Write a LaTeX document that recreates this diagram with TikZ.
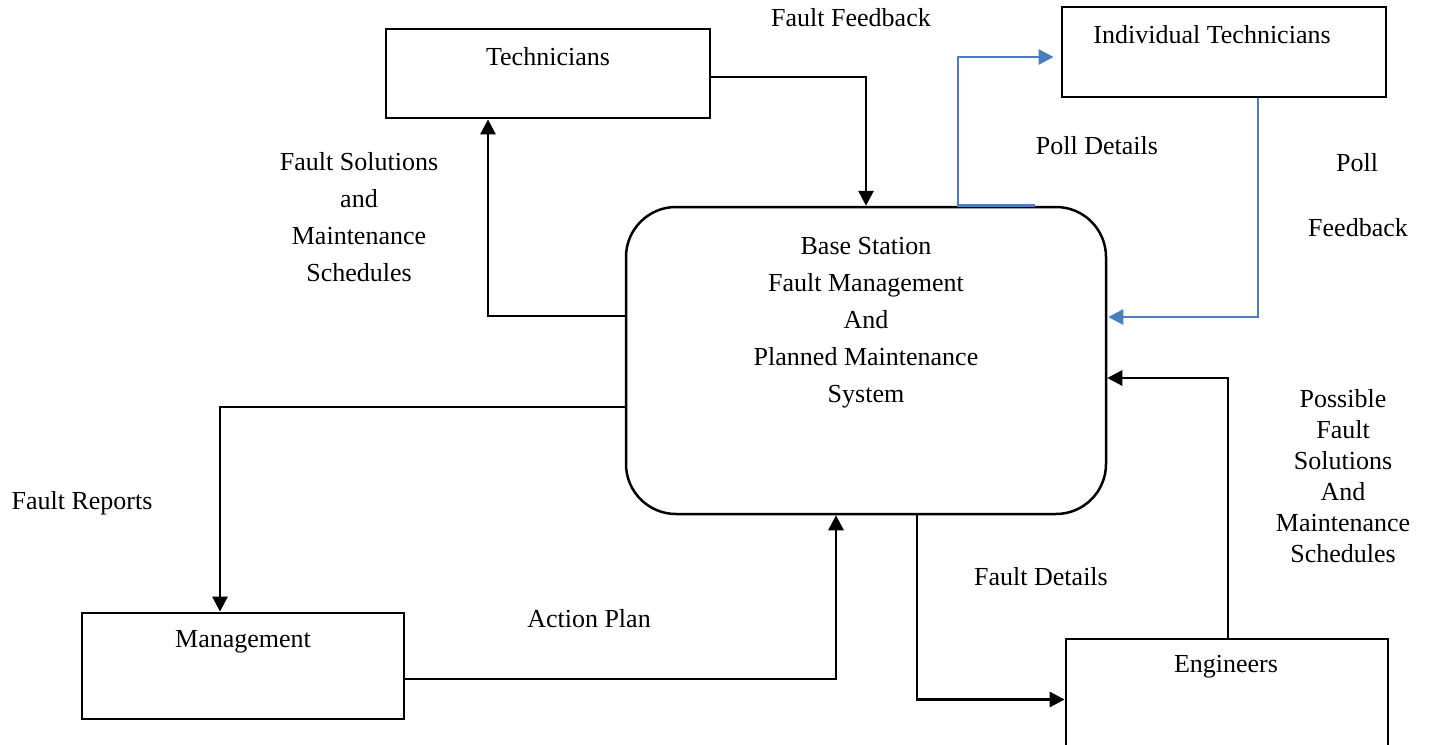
\documentclass[tikz,border=0pt]{standalone}
\usepackage{fontspec}
\setmainfont{Liberation Serif}
\usetikzlibrary{arrows.meta}
\definecolor{flowblue}{RGB}{74,126,190}
\tikzset{
  box/.style={draw=black, line width=2.8pt, rectangle, inner sep=0pt},
  mainbox/.style={draw=black, line width=2.5pt, rectangle, rounded corners=50pt, inner sep=0pt},
  lbl/.style={font=\fontsize{26}{31}\selectfont, inner sep=0pt, align=center},
  lblwide/.style={font=\fontsize{26}{37}\selectfont, inner sep=0pt, align=center},
  arr/.style={draw=black, line width=2.8pt, -{Triangle[length=15pt,width=15pt]}},
  barr/.style={draw=flowblue, line width=2.8pt, -{Triangle[length=15pt,width=15pt]}}
}
\begin{document}
\begin{tikzpicture}[x=1pt,y=-1pt]
\useasboundingbox (0,0) rectangle (1431,744);
% boxes
\node[box, minimum width=324pt, minimum height=89pt] (tech) at (548,73.5) {};
\node[box, minimum width=324pt, minimum height=90pt] (indiv) at (1224,52) {};
\node[mainbox, minimum width=480pt, minimum height=307pt] (cent) at (866,360.5) {};
\node[box, minimum width=322pt, minimum height=106pt] (mgmt) at (243,666) {};
\node[box, minimum width=322pt, minimum height=121pt] (eng) at (1227,699.5) {};
% box texts
\node[lbl] (techT) at (548,57) {Technicians};
\node[lbl] (indivT) at (1212,35) {Individual Technicians};
\node[lblwide] (centT) at (866,323) {Base Station\\Fault Management\\And\\Planned Maintenance\\System};
\node[lbl] (mgmtT) at (243,642) {Management};
\node[lbl] (engT) at (1226,667) {Engineers};
% connectors
\draw[arr] ([yshift=-3.5pt]tech.east) -| (cent.north);
\draw[arr] ([yshift=44.5pt]cent.west) -| ([xshift=-60pt]tech.south);
\draw[arr] ([yshift=-46.5pt]cent.west) -| ([xshift=-23pt]mgmt.north);
\draw[arr] ([yshift=-13pt]mgmt.east) -| ([xshift=-30pt]cent.south);
\draw[arr] ([xshift=51pt]cent.south) |- (eng.west);
\draw[arr] ([xshift=1pt]eng.north) |- ([yshift=-17.5pt]cent.east);
\draw[barr] ([xshift=169pt]cent.north) -- ([xshift=92pt]cent.north) |- ([xshift=-7pt,yshift=-5pt]indiv.west);
\draw[barr] ([xshift=34pt]indiv.south) |- ([yshift=43.5pt,xshift=1pt]cent.east);
% connector labels
\node[lbl] (ff) at (851,18) {Fault Feedback};
\node[lbl] (pd) at (1097,146) {Poll Details};
\node[lbl] (poll) at (1357,163) {Poll};
\node[lbl] (fb) at (1358,228) {Feedback};
\node[lblwide] (fsm) at (359,217) {Fault Solutions\\and\\Maintenance\\Schedules};
\node[lbl] (fr) at (82,503) {Fault Reports};
\node[lbl] (ap) at (589,619) {Action Plan};
\node[lbl] (fd) at (1041,577) {Fault Details};
\node[lbl] (pfs) at (1343,476) {Possible\\Fault\\Solutions\\And\\Maintenance\\Schedules};
\end{tikzpicture}
\end{document}
